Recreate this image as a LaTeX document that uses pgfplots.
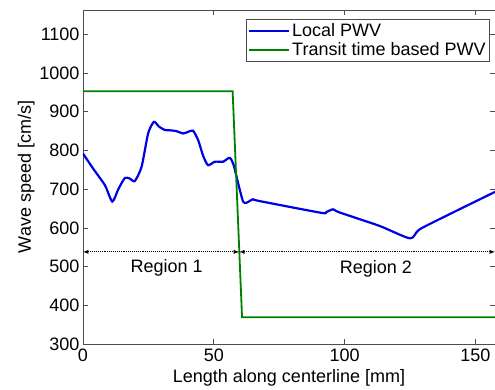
\documentclass[border=0pt]{standalone}
\usepackage{fontspec}
\setmainfont{Liberation Sans}
\usepackage{pgfplots}
\pgfplotsset{compat=1.18}
\definecolor{mblue}{rgb}{0,0,0.9}
\definecolor{mgreen}{rgb}{0,0.5,0}
\definecolor{axgray}{rgb}{0.3,0.3,0.3}
\begin{document}
\begin{tikzpicture}[x=1pt,y=1pt]
\useasboundingbox (-83,-46) rectangle (412,344);
\begin{axis}[
  at={(0,0)}, anchor=south west,
  scale only axis, width=412pt, height=334pt,
  xmin=0, xmax=157.5, ymin=300, ymax=1163,
  xtick={0,50,100,150}, ytick={300,400,...,1100},
  tick align=inside, major tick length=5pt,
  axis line style={axgray, line width=0.8pt},
  tick style={axgray, line width=0.6pt},
  /pgf/number format/assume math mode=true,
  /pgf/number format/1000 sep={},
  ticklabel style={font=\fontsize{18}{20}\selectfont},
  label style={font=\fontsize{18}{20}\selectfont},
  xticklabel style={yshift=-1pt},
  xlabel={Length along centerline [mm]},
  ylabel={Wave speed [cm/s]},
  xlabel style={yshift=-1pt},
  ylabel style={yshift=-2pt},
  legend style={at={(rel axis cs:1,1)}, anchor=north east, xshift=-5pt, yshift=-9pt,
    draw=axgray, line width=0.8pt, font=\fontsize{18}{20}\selectfont,
    inner sep=2pt, row sep=1pt},
  legend cell align=left,
  legend image code/.code={\draw[#1] (0pt,0pt) -- (40pt,0pt);},
]
\addplot[mblue, line width=2.2pt, smooth, tension=0.4] coordinates {
(0,792) (4,752) (8.4,710) (11.2,668) (13.5,700) (16,729) (18,727) (19.8,721) (22.4,758)
(24.9,844) (27.1,874) (29,862) (31.3,853) (33.5,852) (35.7,850) (38.3,844) (40.5,849) (42.1,851)
(44,827) (46,785) (47.8,762) (50.4,771) (53.5,771) (56.1,781) (57.6,762) (59.5,710) (61.2,668)
(62.5,665) (65,674) (67,670)
(91,639) (93,641) (95.6,648) (98,640)
(113.4,605) (125,573) (128.6,596) (140,635) (157.5,693)
};
\addlegendentry{Local PWV}
\addplot[mgreen, line width=1.8pt] coordinates {
(0,953) (57.2,953) (60.8,369) (157.5,369)
};
\addlegendentry{Transit time based PWV}
\addplot[black, densely dotted, line width=0.9pt, -latex, forget plot] coordinates {(30,538) (0,538)};
\addplot[black, densely dotted, line width=0.9pt, -latex, forget plot] coordinates {(30,538) (59.7,538)};
\addplot[black, densely dotted, line width=0.9pt, -latex, forget plot] coordinates {(110,538) (59.7,538)};
\addplot[black, densely dotted, line width=0.9pt, -latex, forget plot] coordinates {(110,538) (157.5,538)};
\node[font=\fontsize{18}{20}\selectfont] at (axis cs:32,496) {Region 1};
\node[font=\fontsize{18}{20}\selectfont] at (axis cs:112,493) {Region 2};
\end{axis}
\end{tikzpicture}
\end{document}
